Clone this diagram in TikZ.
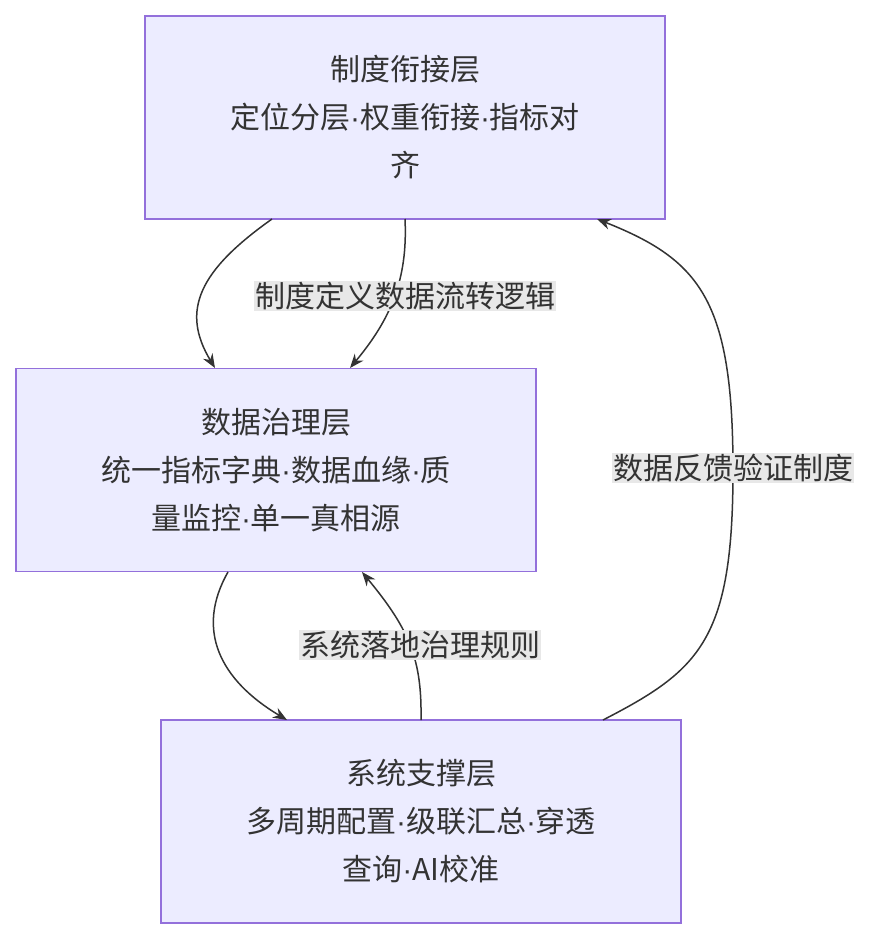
\documentclass[tikz,border=0pt]{standalone}
\usepackage{fontspec}
\setmainfont{Noto Sans CJK SC}
\newfontfamily\dotfont{Liberation Sans}
\newcommand{\md}{{\dotfont ·}}
\usetikzlibrary{arrows.meta}
\definecolor{boxfill}{HTML}{ECECFF}
\definecolor{boxline}{HTML}{9370DB}
\definecolor{lblbg}{HTML}{E8E8E8}
\definecolor{txt}{HTML}{333333}
\begin{document}
\begin{tikzpicture}[x=1pt,y=-1pt,
  box/.style={draw=boxline,fill=boxfill,line width=1.5pt,minimum width=520pt,minimum height=203pt,align=center,font=\fontsize{30}{48}\selectfont,text=txt,inner sep=0pt},
  lbl/.style={fill=lblbg,font=\fontsize{30}{34}\selectfont,text=txt,inner sep=1pt},
  edge/.style={draw=txt,line width=1.5pt,-{Stealth[length=14pt,width=11pt]}}]
\useasboundingbox (0,0) rectangle (878,940);
\node[box] (top) at (405,117.5) {制度衔接层\\定位分层\md 权重衔接\md 指标对\\齐};
\node[box] (mid) at (276,470) {数据治理层\\统一指标字典\md 数据血缘\md 质\\量监控\md 单一真相源};
\node[box] (bot) at (421,821.5) {系统支撑层\\多周期配置\md 级联汇总\md 穿透\\查询\md AI校准};
\coordinate (t1) at (272,219); \coordinate (m1) at (215,368);
\coordinate (t2) at (405,219); \coordinate (m2) at (350,368);
\coordinate (m3) at (228,572); \coordinate (b3) at (287,720);
\coordinate (b4) at (421,720); \coordinate (m4) at (362,572);
\coordinate (b5) at (603,720); \coordinate (t5) at (597,219);
\draw[edge] (t1) .. controls (200,270) and (180,310) .. (m1);
\draw[edge] (t2) .. controls (408,280) and (390,320) .. (m2);
\node[lbl] (l1) at (405,296) {制度定义数据流转逻辑};
\draw[edge] (m3) .. controls (195,630) and (220,680) .. (b3);
\draw[edge] (b4) .. controls (422,660) and (410,630) .. (m4);
\node[lbl] (l2) at (420,645) {系统落地治理规则};
\draw[edge] (b5) .. controls (700,670) and (733,640) .. (733,470) .. controls (733,300) and (700,260) .. (t5);
\node[lbl] (l3) at (733,468) {数据反馈验证制度};
\end{tikzpicture}
\end{document}
